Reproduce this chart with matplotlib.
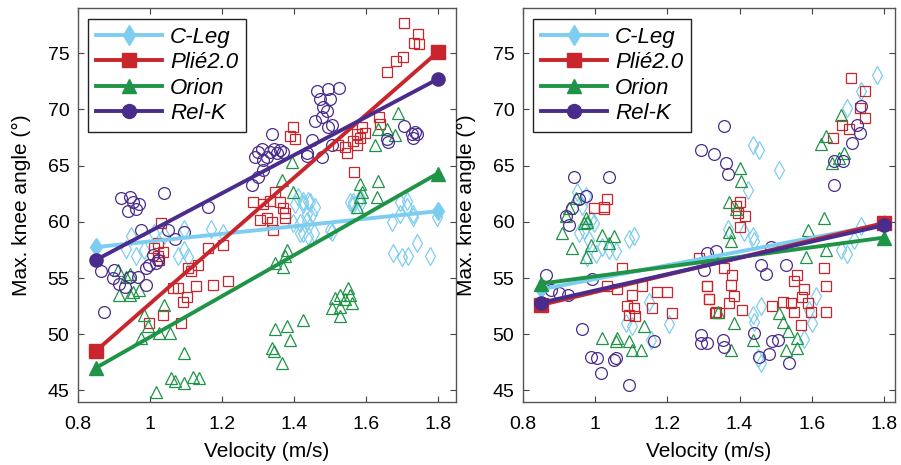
import numpy as np
import matplotlib
matplotlib.use("Agg")
import matplotlib.pyplot as plt
from matplotlib.lines import Line2D

plt.rcParams['font.family'] = ['Liberation Sans', 'DejaVu Sans']

# fit line end points (velocity)
fit_v = [0.85, 1.8]

# ---- left panel ----
cleg_left = [(0.948, 58.7), (0.962, 57.0), (0.985, 57.5), (1.041, 58.8), (1.078, 57.0), (1.096, 57.5),
             (1.106, 56.9), (1.096, 59.4), (1.170, 59.4), (1.203, 59.0), (1.013, 59.0), (0.934, 57.6),
             (1.413, 62.2), (1.427, 61.6), (1.441, 61.9), (1.450, 60.7), (1.459, 61.3), (1.436, 60.1),
             (1.418, 59.0), (1.399, 59.9), (1.427, 61.9), (1.445, 61.8), (1.404, 61.6), (1.566, 61.8),
             (1.584, 62.1), (1.695, 61.8), (1.714, 61.9), (1.436, 60.7), (1.418, 59.9), (1.427, 59.0),
             (1.441, 58.7), (1.455, 59.0), (1.505, 59.1), (1.566, 61.5), (1.584, 61.6), (1.556, 61.8),
             (1.672, 60.0), (1.695, 60.7), (1.714, 61.3), (1.732, 60.7), (1.742, 58.1), (1.677, 57.2),
             (1.700, 56.9), (1.718, 57.0), (1.779, 57.0), (1.797, 60.4), (1.500, 59.3), (1.732, 60.4)]
plie_left = [(1.030, 59.9), (1.022, 58.1), (1.011, 57.7), (1.036, 57.3), (1.022, 57.0), (1.027, 56.6),
             (1.106, 55.9), (1.115, 55.6), (1.133, 56.2), (1.161, 57.7), (1.203, 57.9), (1.064, 54.1),
             (1.078, 54.1), (1.092, 52.9), (1.104, 53.3), (1.129, 54.3), (1.175, 54.4), (1.217, 54.7),
             (1.036, 51.7), (0.999, 51.0), (1.087, 51.0),
             (1.288, 61.8), (1.316, 61.6), (1.334, 61.9), (1.348, 62.7), (1.362, 61.8), (1.371, 61.25),
             (1.325, 60.3), (1.307, 60.2), (1.339, 60.0), (1.343, 59.3), (1.375, 60.3), (1.375, 60.8),
             (1.399, 68.4), (1.390, 67.6), (1.404, 67.4), (1.589, 68.4), (1.575, 67.8), (1.584, 67.5),
             (1.598, 67.9), (1.566, 67.2), (1.575, 66.8), (1.543, 66.7), (1.547, 66.1), (1.524, 66.8),
             (1.637, 69.3), (1.640, 68.7), (1.568, 64.4),
             (1.706, 77.7), (1.746, 76.7), (1.734, 75.9), (1.749, 75.8), (1.703, 74.65), (1.684, 74.3),
             (1.658, 73.3)]
orion_left = [(0.911, 55.7), (0.944, 55.4), (0.934, 55.1), (0.916, 53.5), (0.944, 53.5), (0.953, 53.8),
              (0.971, 53.9), (1.041, 52.6), (0.985, 51.7), (0.994, 50.7), (0.976, 49.7), (1.027, 50.1),
              (1.055, 50.1), (1.096, 48.3), (1.059, 46.1), (1.069, 45.8), (1.096, 45.7), (1.119, 46.2),
              (1.138, 46.1), (1.018, 44.9),
              (1.380, 57.5), (1.376, 57.0), (1.348, 56.3), (1.371, 56.0), (1.575, 61.3),
              (1.348, 50.5), (1.380, 50.7), (1.427, 51.3), (1.390, 49.5), (1.339, 48.8), (1.344, 48.5),
              (1.367, 47.4),
              (1.515, 53.2), (1.529, 53.5), (1.552, 54.1), (1.556, 53.5), (1.506, 52.3), (1.529, 52.4),
              (1.561, 52.8), (1.529, 51.6), (1.543, 53.1),
              (1.691, 69.7), (1.658, 68.3), (1.681, 67.7), (1.635, 68.3), (1.626, 66.8), (1.394, 65.3),
              (1.367, 63.7), (1.584, 63.4), (1.589, 62.7), (1.584, 62.2), (1.635, 63.6), (1.630, 62.2),
              (1.399, 62.7)]
relk_left = [(0.920, 62.1), (0.944, 62.2), (0.953, 61.8), (0.971, 61.6), (0.939, 61.0), (0.962, 61.1),
             (1.041, 62.6), (1.161, 61.3), (0.976, 59.3), (1.050, 59.3), (1.069, 58.5), (1.094, 59.1),
             (1.008, 57.05), (1.022, 56.6), (0.999, 56.2), (0.990, 55.9), (1.018, 56.3), (0.990, 54.4),
             (0.865, 55.6), (0.902, 55.7), (0.897, 55.0), (0.916, 54.5), (0.930, 54.2), (0.967, 55.1),
             (0.944, 55.1), (0.874, 52.0),
             (1.283, 63.25), (1.293, 65.8), (1.302, 66.2), (1.311, 66.5), (1.316, 65.5), (1.325, 65.8),
             (1.334, 66.2), (1.344, 66.5), (1.353, 66.1), (1.362, 66.4), (1.371, 66.2), (1.316, 64.6),
             (1.302, 64.0), (1.339, 67.8), (1.436, 65.9),
             (1.466, 71.6), (1.496, 71.8), (1.527, 71.9), (1.473, 70.95), (1.501, 70.9), (1.482, 70.2),
             (1.492, 69.9), (1.459, 69.0), (1.478, 69.3), (1.496, 68.4), (1.506, 68.6), (1.450, 67.25),
             (1.478, 65.8), (1.436, 66.1), (1.506, 66.8),
             (1.705, 68.5), (1.728, 67.8), (1.737, 68.0), (1.742, 67.8), (1.732, 67.5), (1.658, 67.4),
             (1.663, 67.1)]
fit_left = {'C-Leg': [57.75, 60.95], 'Plié2.0': [48.5, 75.1],
            'Orion': [47.0, 64.3], 'Rel-K': [56.6, 72.7]}

# ---- right panel ----
cleg_right = [(0.951, 62.7), (0.974, 62.3), (0.965, 61.4), (0.988, 60.2), (0.997, 59.9), (0.956, 59.0),
              (0.983, 58.4), (1.020, 57.8), (1.039, 57.5), (1.057, 57.4), (1.094, 58.5), (0.979, 56.9),
              (1.002, 57.1), (0.970, 59.3), (1.107, 58.7),
              (1.085, 51.0), (1.103, 50.7), (1.154, 49.5), (1.204, 50.9), (1.149, 52.9),
              (1.779, 73.1), (1.735, 71.6), (1.698, 70.1), (1.436, 66.85), (1.454, 66.4), (1.509, 64.6),
              (1.422, 62.85), (1.367, 59.4), (1.413, 59.1), (1.436, 58.7), (1.440, 58.3),
              (1.680, 57.5), (1.698, 57.1), (1.735, 59.6), (1.717, 58.4),
              (1.459, 52.5), (1.436, 51.7), (1.440, 51.1), (1.611, 53.4), (1.592, 52.2), (1.601, 51.0),
              (1.578, 49.6), (1.459, 47.4), (1.450, 47.9)]
plie_right = [(0.997, 61.2), (1.025, 61.3), (1.034, 62.0), (1.025, 61.1), (1.075, 55.9), (1.034, 54.3),
              (1.062, 54.0), (1.103, 53.5), (1.131, 54.3), (1.172, 53.8), (1.200, 53.8), (1.089, 52.5),
              (1.108, 52.3), (1.094, 51.7), (1.112, 51.6), (1.158, 52.3), (1.214, 51.9), (1.287, 56.8),
              (1.310, 54.3), (1.315, 53.1), (1.333, 51.9),
              (1.709, 72.8), (1.746, 71.6), (1.733, 70.1), (1.746, 69.2), (1.684, 68.6), (1.703, 68.3),
              (1.659, 67.5),
              (1.402, 61.8), (1.390, 61.4), (1.396, 60.8), (1.415, 60.5), (1.402, 59.5), (1.357, 55.9),
              (1.380, 55.3), (1.311, 54.3), (1.376, 54.4), (1.316, 53.1), (1.385, 53.4), (1.371, 52.8),
              (1.334, 52.0), (1.344, 51.9), (1.408, 52.2),
              (1.560, 55.3), (1.551, 54.7), (1.578, 54.0), (1.574, 53.3), (1.519, 52.9), (1.491, 52.5),
              (1.542, 52.8), (1.551, 52.0), (1.588, 52.8), (1.597, 52.0), (1.569, 50.85), (1.634, 55.9),
              (1.638, 54.3), (1.638, 52.0)]
orion_right = [(0.947, 62.1), (0.928, 61.2), (0.919, 60.5), (0.910, 59.0), (0.937, 57.7), (0.974, 60.3),
               (0.979, 60.0), (0.970, 59.9), (0.974, 56.9), (0.988, 57.96), (1.020, 58.8), (1.052, 58.7),
               (1.039, 58.1), (1.020, 49.7), (1.062, 49.7), (1.057, 49.4), (1.094, 49.4), (1.135, 50.7),
               (1.103, 48.6), (1.126, 48.6),
               (1.680, 69.5), (1.638, 67.6), (1.625, 66.9), (1.689, 66.1), (1.675, 65.7), (1.657, 65.2),
               (1.402, 64.8), (1.405, 63.6), (1.371, 61.8), (1.390, 61.1), (1.371, 59.1), (1.376, 58.3),
               (1.634, 60.3), (1.588, 59.3), (1.583, 56.9), (1.638, 57.5),
               (1.339, 52.0), (1.385, 51.0), (1.376, 48.6), (1.436, 49.5), (1.509, 51.9), (1.519, 51.1),
               (1.533, 50.3), (1.528, 48.6), (1.560, 49.7), (1.560, 48.8)]
relk_right = [(0.942, 64.03), (1.039, 64.03), (0.974, 62.3), (0.956, 62.0), (0.937, 61.2), (0.919, 60.5),
              (0.928, 59.7), (0.864, 55.3), (0.993, 54.9), (0.877, 53.96), (0.900, 53.7), (0.924, 53.5),
              (0.965, 50.5), (0.988, 48.0), (1.006, 47.9), (1.052, 47.7), (1.057, 47.9), (1.016, 46.55),
              (1.094, 45.5), (1.163, 49.4),
              (1.356, 68.5), (1.293, 66.4), (1.330, 66.0), (1.362, 65.2), (1.367, 64.3),
              (1.735, 70.3), (1.726, 68.6), (1.733, 67.9), (1.712, 67.0), (1.687, 65.4), (1.661, 65.4),
              (1.660, 63.3),
              (1.311, 57.2), (1.334, 57.4), (1.302, 55.7), (1.459, 56.2), (1.473, 55.4), (1.528, 56.2),
              (1.486, 57.8),
              (1.293, 49.96), (1.311, 49.2), (1.293, 49.2), (1.353, 49.5), (1.357, 48.9), (1.440, 50.1),
              (1.454, 48.0), (1.482, 48.2), (1.491, 49.4), (1.505, 49.5), (1.537, 47.4)]
fit_right = {'C-Leg': [54.0, 59.8], 'Plié2.0': [52.6, 59.9],
             'Orion': [54.5, 58.6], 'Rel-K': [52.8, 59.7]}

names = ['C-Leg', 'Plié2.0', 'Orion', 'Rel-K']
colors = ['#7dcdf0', '#c8262c', '#1f9346', '#4a2c8d']
markers = ['d', 's', '^', 'o']
msizes = [9, 7, 8.5, 8.5]

fig = plt.figure(figsize=(9.01, 4.65), dpi=100)
ax1 = fig.add_axes([77.7 / 901, 63.3 / 465, 378 / 901, 393.4 / 465])
ax2 = fig.add_axes([522.7 / 901, 63.3 / 465, 372.3 / 901, 393.4 / 465])


def draw_panel(ax, pts_list, fits, xmax):
    for pts, c, m, s in zip(pts_list, colors, markers, msizes):
        p = np.array(pts)
        ax.plot(p[:, 0], p[:, 1], ls='none', marker=m, ms=s, mfc='none',
                mec=c, mew=0.9)
    handles = []
    for name, c, m in zip(names, colors, markers):
        ax.plot(fit_v, fits[name], color=c, lw=2.8, marker=m, ms=9.5,
                mfc=c, mec=c, solid_capstyle='butt')
        handles.append(Line2D([], [], color=c, lw=2.8, marker=m, ms=10, mfc=c, mec=c))
    ax.set_xlim(0.8, xmax)
    ax.set_ylim(44, 79)
    ax.set_xticks([0.8, 1.0, 1.2, 1.4, 1.6, 1.8])
    ax.set_xticklabels(['0.8', '1', '1.2', '1.4', '1.6', '1.8'])
    ax.set_yticks([45, 50, 55, 60, 65, 70, 75])
    ax.tick_params(direction='in', top=True, right=True, length=4, width=0.8,
                   labelsize=14, color='#444444')
    ax.tick_params(axis='x', pad=10)
    ax.tick_params(axis='y', pad=6)
    for sp in ax.spines.values():
        sp.set_color('#555555')
        sp.set_linewidth(1.0)
    ax.set_xlabel('Velocity (m/s)', fontsize=15, labelpad=7)
    ax.set_ylabel('Max. knee angle (°)', fontsize=15, labelpad=12)
    leg = ax.legend(handles, names, loc='upper left', bbox_to_anchor=(0.027, 0.973),
                    borderaxespad=0, fancybox=False, framealpha=1, edgecolor='#222222',
                    prop={'style': 'italic', 'size': 16}, handlelength=3.0,
                    labelspacing=0.2, handletextpad=0.35, borderpad=0.35)
    leg.get_frame().set_linewidth(1.0)


draw_panel(ax1, [cleg_left, plie_left, orion_left, relk_left], fit_left, 1.85)
draw_panel(ax2, [cleg_right, plie_right, orion_right, relk_right], fit_right, 1.83)

fig.savefig('out.png', dpi=100)
